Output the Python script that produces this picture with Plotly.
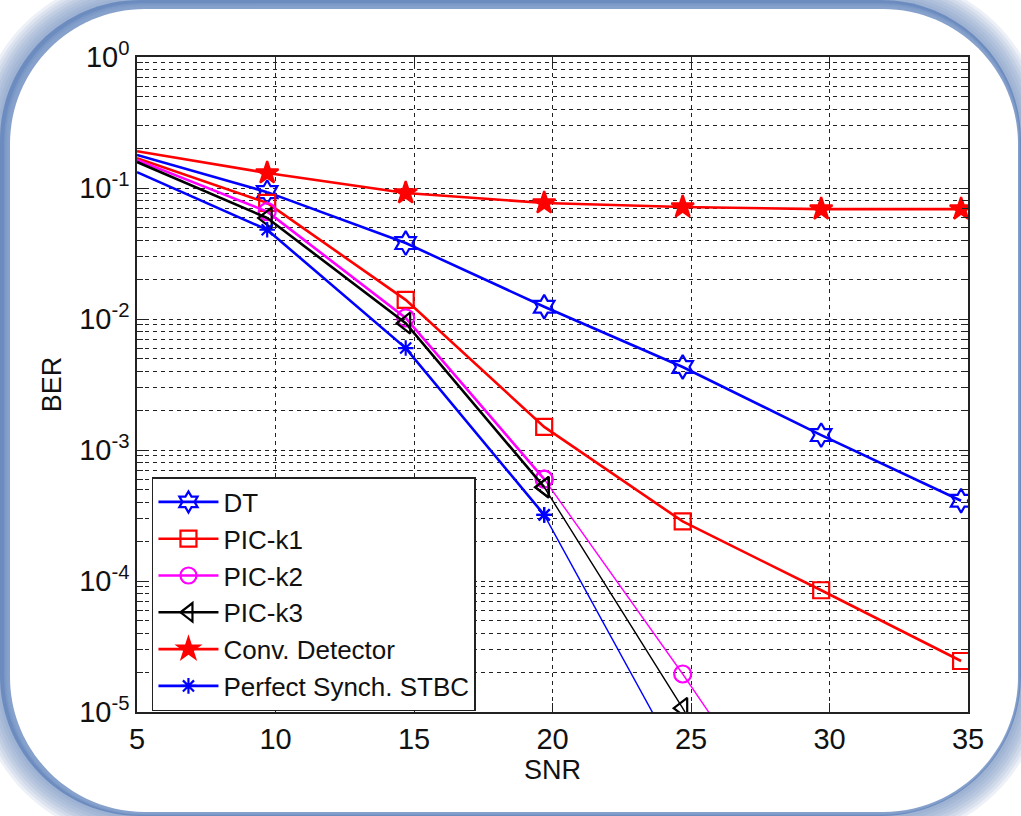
import plotly.graph_objects as go

# SNR points (dB); first entry is the line start without a marker
snr = [5, 9.7, 14.7, 19.7, 24.7, 29.7, 34.75]

ber_dt = [0.179, 0.093, 0.038, 0.0124, 0.0043, 0.0013, 4.1e-4]
ber_pic_k1 = [0.169, 0.077, 0.014, 0.0015, 2.85e-4, 8.5e-5, 2.45e-5]
ber_pic_k2 = [0.164, 0.066, 0.0102, 6.0e-4, 1.95e-5, 5.5e-7, 2.0e-8]
ber_pic_k3 = [0.158, 0.059, 0.0093, 5.2e-4, 1.07e-5, 1.6e-7, 3.0e-9]
ber_conv = [0.191, 0.130, 0.0916, 0.0768, 0.0716, 0.069, 0.069]
ber_perfect = [0.132, 0.048, 0.0060, 3.2e-4, 3.7e-6, 4.0e-8, 5.0e-10]

x_ticks = [5, 10, 15, 20, 25, 30, 35]
y_tick_vals = [1, 1e-1, 1e-2, 1e-3, 1e-4, 1e-5]
y_tick_text = ["10<sup>0</sup>", "10<sup>-1</sup>", "10<sup>-2</sup>",
               "10<sup>-3</sup>", "10<sup>-4</sup>", "10<sup>-5</sup>"]

FONT = "Liberation Sans, Arial, sans-serif"
W, H = 1021, 816
L, R, T, B = 137, 968, 57, 712

series = [
    # name, values, color, symbol, size, index after which the line is thin
    ("DT", ber_dt, "#0000ff", "hexagram-open", 18, None),
    ("PIC-k1", ber_pic_k1, "#ff0000", "square-open", 16, None),
    ("PIC-k2", ber_pic_k2, "#ff00ff", "circle-open", 17, 3),
    ("PIC-k3", ber_pic_k3, "#000000", "triangle-left-open", 18, 3),
    ("Conv. Detector", ber_conv, "#ff0000", "star", 17, None),
    ("Perfect Synch. STBC", ber_perfect, "#0000ff", "asterisk-open", 13, 3),
]

fig = go.Figure()
for name, vals, color, symbol, size, thin_from in series:
    marker = dict(symbol=symbol, size=size, color=color,
                  line=dict(color=color, width=2.2))
    # leading segment from the axis edge to the first marked point
    fig.add_trace(go.Scatter(x=snr[:2], y=vals[:2], mode="lines",
                             line=dict(color=color, width=2.6),
                             legendgroup=name, showlegend=False,
                             hoverinfo="skip"))
    end = len(snr) if thin_from is None else thin_from + 1
    fig.add_trace(go.Scatter(x=snr[1:end], y=vals[1:end], mode="lines+markers",
                             name=name, legendgroup=name,
                             line=dict(color=color, width=2.6), marker=marker))
    if thin_from is not None:
        fig.add_trace(go.Scatter(x=snr[thin_from:], y=vals[thin_from:],
                                 mode="lines+markers", legendgroup=name,
                                 showlegend=False,
                                 line=dict(color=color, width=1.4),
                                 marker=marker))


def px_x(p):
    return (p - L) / (R - L)


def px_y(p):
    return (B - p) / (B - T)


def rounded_rect(x0, y0, x1, y1, r):
    k = 0.5523 * r
    pts = [
        ("M", [(x0 + r, y0)]),
        ("L", [(x1 - r, y0)]),
        ("C", [(x1 - r + k, y0), (x1, y0 + r - k), (x1, y0 + r)]),
        ("L", [(x1, y1 - r)]),
        ("C", [(x1, y1 - r + k), (x1 - r + k, y1), (x1 - r, y1)]),
        ("L", [(x0 + r, y1)]),
        ("C", [(x0 + r - k, y1), (x0, y1 - r + k), (x0, y1 - r)]),
        ("L", [(x0, y0 + r)]),
        ("C", [(x0, y0 + r - k), (x0 + r - k, y0), (x0 + r, y0)]),
    ]
    out = []
    for cmd, ps in pts:
        out.append(cmd + " ".join(f"{px_x(a):.5f},{px_y(b):.5f}" for a, b in ps))
    return " ".join(out) + " Z"


def frame_shape(x0, y0, x1, y1, r, fill):
    return dict(type="path", xref="paper", yref="paper", layer="below",
                path=rounded_rect(x0, y0, x1, y1, r), fillcolor=fill,
                line=dict(width=0))


shapes = []
# soft outer edge of the blue frame
for i in range(8, 0, -1):
    d = i * 3
    shapes.append(frame_shape(-d, -d, W + d, H + d, 140 + d,
                              "rgba(105,138,190,0.12)"))
shapes.append(frame_shape(0, 0, W, H, 140, "rgb(108,140,192)"))
# lighter inner shading toward the white card
for i in range(4):
    shapes.append(frame_shape(4 + i * 1.2, 3 + i * 1.2, W - 1 - i * 0.5,
                              H - 1 - i * 0.5, 138 - i,
                              "rgba(140,165,205,0.35)"))
shapes.append(frame_shape(10, 9, W - 3, H - 4, 135, "white"))

fig.update_layout(
    width=W, height=H,
    margin=dict(l=L, r=W - R, t=T, b=H - B),
    paper_bgcolor="white",
    plot_bgcolor="rgba(0,0,0,0)",
    font=dict(family=FONT, size=28, color="#111111"),
    shapes=shapes,
    showlegend=True,
    legend=dict(x=0.018, y=px_y(594), xanchor="left", yanchor="middle",
                bgcolor="white", bordercolor="#222222", borderwidth=1.5,
                font=dict(family=FONT, size=26, color="#111111"),
                tracegroupgap=0, itemwidth=60),
    xaxis=dict(
        range=[5, 35], tickvals=x_ticks, ticktext=[str(v) for v in x_ticks],
        showline=True, linecolor="#222222", linewidth=1.5, mirror="ticks",
        ticks="inside", ticklen=9, tickcolor="#222222",
        showgrid=True, gridcolor="#222222", gridwidth=1.4, griddash="4px,4px",
        zeroline=False,
        title=dict(text="SNR", font=dict(size=27), standoff=4),
        tickfont=dict(size=29),
    ),
    yaxis=dict(
        type="log", range=[-5, 0], tickvals=y_tick_vals, ticktext=y_tick_text,
        showline=True, linecolor="#222222", linewidth=1.5, mirror="ticks",
        ticks="inside", ticklen=9, tickcolor="#222222",
        showgrid=True, gridcolor="#222222", gridwidth=1.4, griddash="4px,4px",
        zeroline=False,
        minor=dict(ticks="inside", ticklen=6, tickcolor="#222222",
                   showgrid=True, gridcolor="#222222", gridwidth=1.4,
                   griddash="4px,4px", dtick="D1"),
        title=dict(text="BER", font=dict(size=27), standoff=10),
        tickfont=dict(size=29),
    ),
)

fig.write_html("out.html")
